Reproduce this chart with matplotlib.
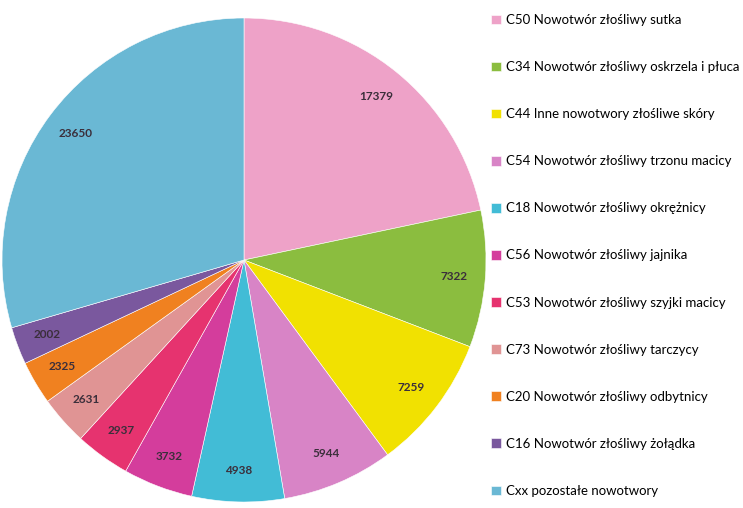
import matplotlib.pyplot as plt

# Dane
categories = [
    'C50 Nowotwór złośliwy sutka',
    'C34 Nowotwór złośliwy oskrzela i płuca',
    'C44 Inne nowotwory złośliwe skóry',
    'C54 Nowotwór złośliwy trzonu macicy',
    'C18 Nowotwór złośliwy okrężnicy',
    'C56 Nowotwór złośliwy jajnika',
    'C53 Nowotwór złośliwy szyjki macicy',
    'C73 Nowotwór złośliwy tarczycy',
    'C20 Nowotwór złośliwy odbytnicy',
    'C16 Nowotwór złośliwy żołądka',
    'Cxx pozostałe nowotwory',
]
values = [17379, 7322, 7259, 5944, 4938, 3732, 2937, 2631, 2325, 2002, 23650]
colors = ['#EEA2C8', '#8BBD3F', '#F1E101', '#D884C6', '#42BCD6', '#D43D9C',
          '#E6336F', '#E09494', '#F08120', '#7A589E', '#6AB8D4']

W, H = 743, 508
fig = plt.figure(figsize=(W / 100, H / 100), dpi=100)
ax = fig.add_axes([0, 0, 1, 1])

wedges, texts = ax.pie(
    values,
    labels=[str(v) for v in values],
    colors=colors,
    startangle=90,
    counterclock=False,
    center=(244, H - 260),
    radius=242,
    labeldistance=0.87,
    wedgeprops=dict(edgecolor='white', linewidth=0.4),
    textprops=dict(fontsize=8.5, fontweight='bold', color='#3b2f3b', family='Lato'),
)
for t in texts:
    t.set_horizontalalignment('center')
    t.set_verticalalignment('center')

ax.set_xlim(0, W)
ax.set_ylim(0, H)
ax.axis('off')

ax.legend(
    wedges, categories,
    loc='upper left',
    bbox_to_anchor=(491 / W, 1 - 14 / H),
    frameon=False,
    prop=dict(family='Lato', size=9.5),
    handlelength=0.75,
    handleheight=0.75,
    handletextpad=0.35,
    labelspacing=2.66,
    borderpad=0,
    borderaxespad=0,
)

plt.savefig('out.png', dpi=100)
